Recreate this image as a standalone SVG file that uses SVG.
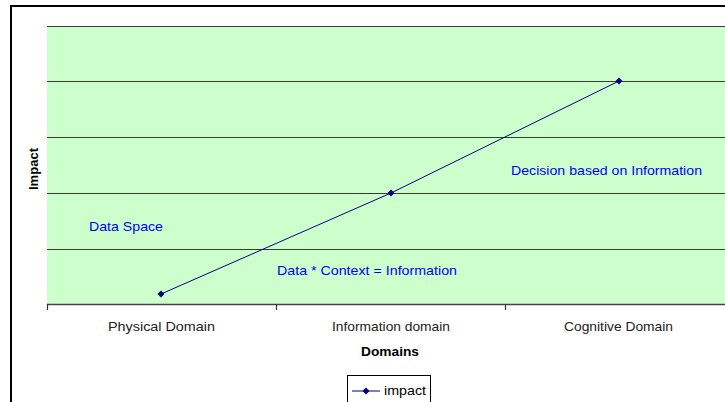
<svg xmlns="http://www.w3.org/2000/svg" width="725" height="402" viewBox="0 0 725 402">
<defs>
<style>
.grid{stroke:#000;stroke-width:1;opacity:0.75}
.tick{stroke:#333;stroke-width:1.2}
.cat{font-family:"Liberation Sans",Arial,sans-serif;font-size:13px;fill:#222}
.ttl{font-family:"Liberation Sans",Arial,sans-serif;font-size:13px;font-weight:bold;fill:#000}
.note{font-family:"Liberation Sans",Arial,sans-serif;font-size:13px;fill:#0000FF}
.ser{stroke:#000080;stroke-width:1;fill:none}
</style>
<marker id="dia" markerWidth="8" markerHeight="8" refX="4" refY="4" markerUnits="userSpaceOnUse">
<path d="M4,0.5 L7.5,4 L4,7.5 L0.5,4 Z" fill="#000080"/>
</marker>
</defs>
<rect x="0" y="0" width="725" height="402" fill="#fff"/>
<g id="chart-border">
<path d="M11,402 V6 H725" fill="none" stroke="#000" stroke-width="2"/>
</g>
<g id="plot-area">
<rect x="47" y="26" width="678" height="279" fill="#CCFFCC"/>
<line class="grid" x1="47" y1="26.5" x2="725" y2="26.5"/>
<line class="grid" x1="47" y1="81.5" x2="725" y2="81.5"/>
<line class="grid" x1="47" y1="137.5" x2="725" y2="137.5"/>
<line class="grid" x1="47" y1="193.5" x2="725" y2="193.5"/>
<line class="grid" x1="47" y1="249.5" x2="725" y2="249.5"/>
</g>
<g id="x-axis">
<line x1="47" y1="304.5" x2="725" y2="304.5" stroke="#444" stroke-width="1.5"/>
<line class="tick" x1="47.5" y1="304" x2="47.5" y2="310"/>
<line class="tick" x1="276.5" y1="304" x2="276.5" y2="310"/>
<line class="tick" x1="505.5" y1="304" x2="505.5" y2="310"/>
<text class="cat" x="108" y="331" textLength="107" lengthAdjust="spacingAndGlyphs">Physical Domain</text>
<text class="cat" x="332" y="331" textLength="118" lengthAdjust="spacingAndGlyphs">Information domain</text>
<text class="cat" x="564" y="331" textLength="109" lengthAdjust="spacingAndGlyphs">Cognitive Domain</text>
<text class="ttl" x="361" y="356" textLength="58" lengthAdjust="spacingAndGlyphs">Domains</text>
</g>
<g id="y-axis">
<text class="ttl" transform="translate(38,190) rotate(-90)" textLength="42" lengthAdjust="spacingAndGlyphs">Impact</text>
</g>
<g id="connectors">
<polyline class="ser" points="161,294 391,193 619,81" marker-start="url(#dia)" marker-mid="url(#dia)" marker-end="url(#dia)"/>
</g>
<g id="annotation-data-space">
<text class="note" x="89" y="231" textLength="74" lengthAdjust="spacingAndGlyphs">Data Space</text>
</g>
<g id="annotation-context">
<text class="note" x="277" y="275" textLength="180" lengthAdjust="spacingAndGlyphs">Data * Context = Information</text>
</g>
<g id="annotation-decision">
<text class="note" x="511" y="175" textLength="191" lengthAdjust="spacingAndGlyphs">Decision based on Information</text>
</g>
<g id="legend">
<rect x="347.5" y="375.5" width="83" height="30" fill="#fff" stroke="#000" stroke-width="1"/>
<line class="ser" x1="352" y1="391" x2="380" y2="391"/>
<path d="M366,387.5 L369.5,391 L366,394.5 L362.5,391 Z" fill="#000080"/>
<text x="384" y="395" font-family="'Liberation Sans',Arial,sans-serif" font-size="13" fill="#000" textLength="42" lengthAdjust="spacingAndGlyphs">impact</text>
</g>
</svg>
